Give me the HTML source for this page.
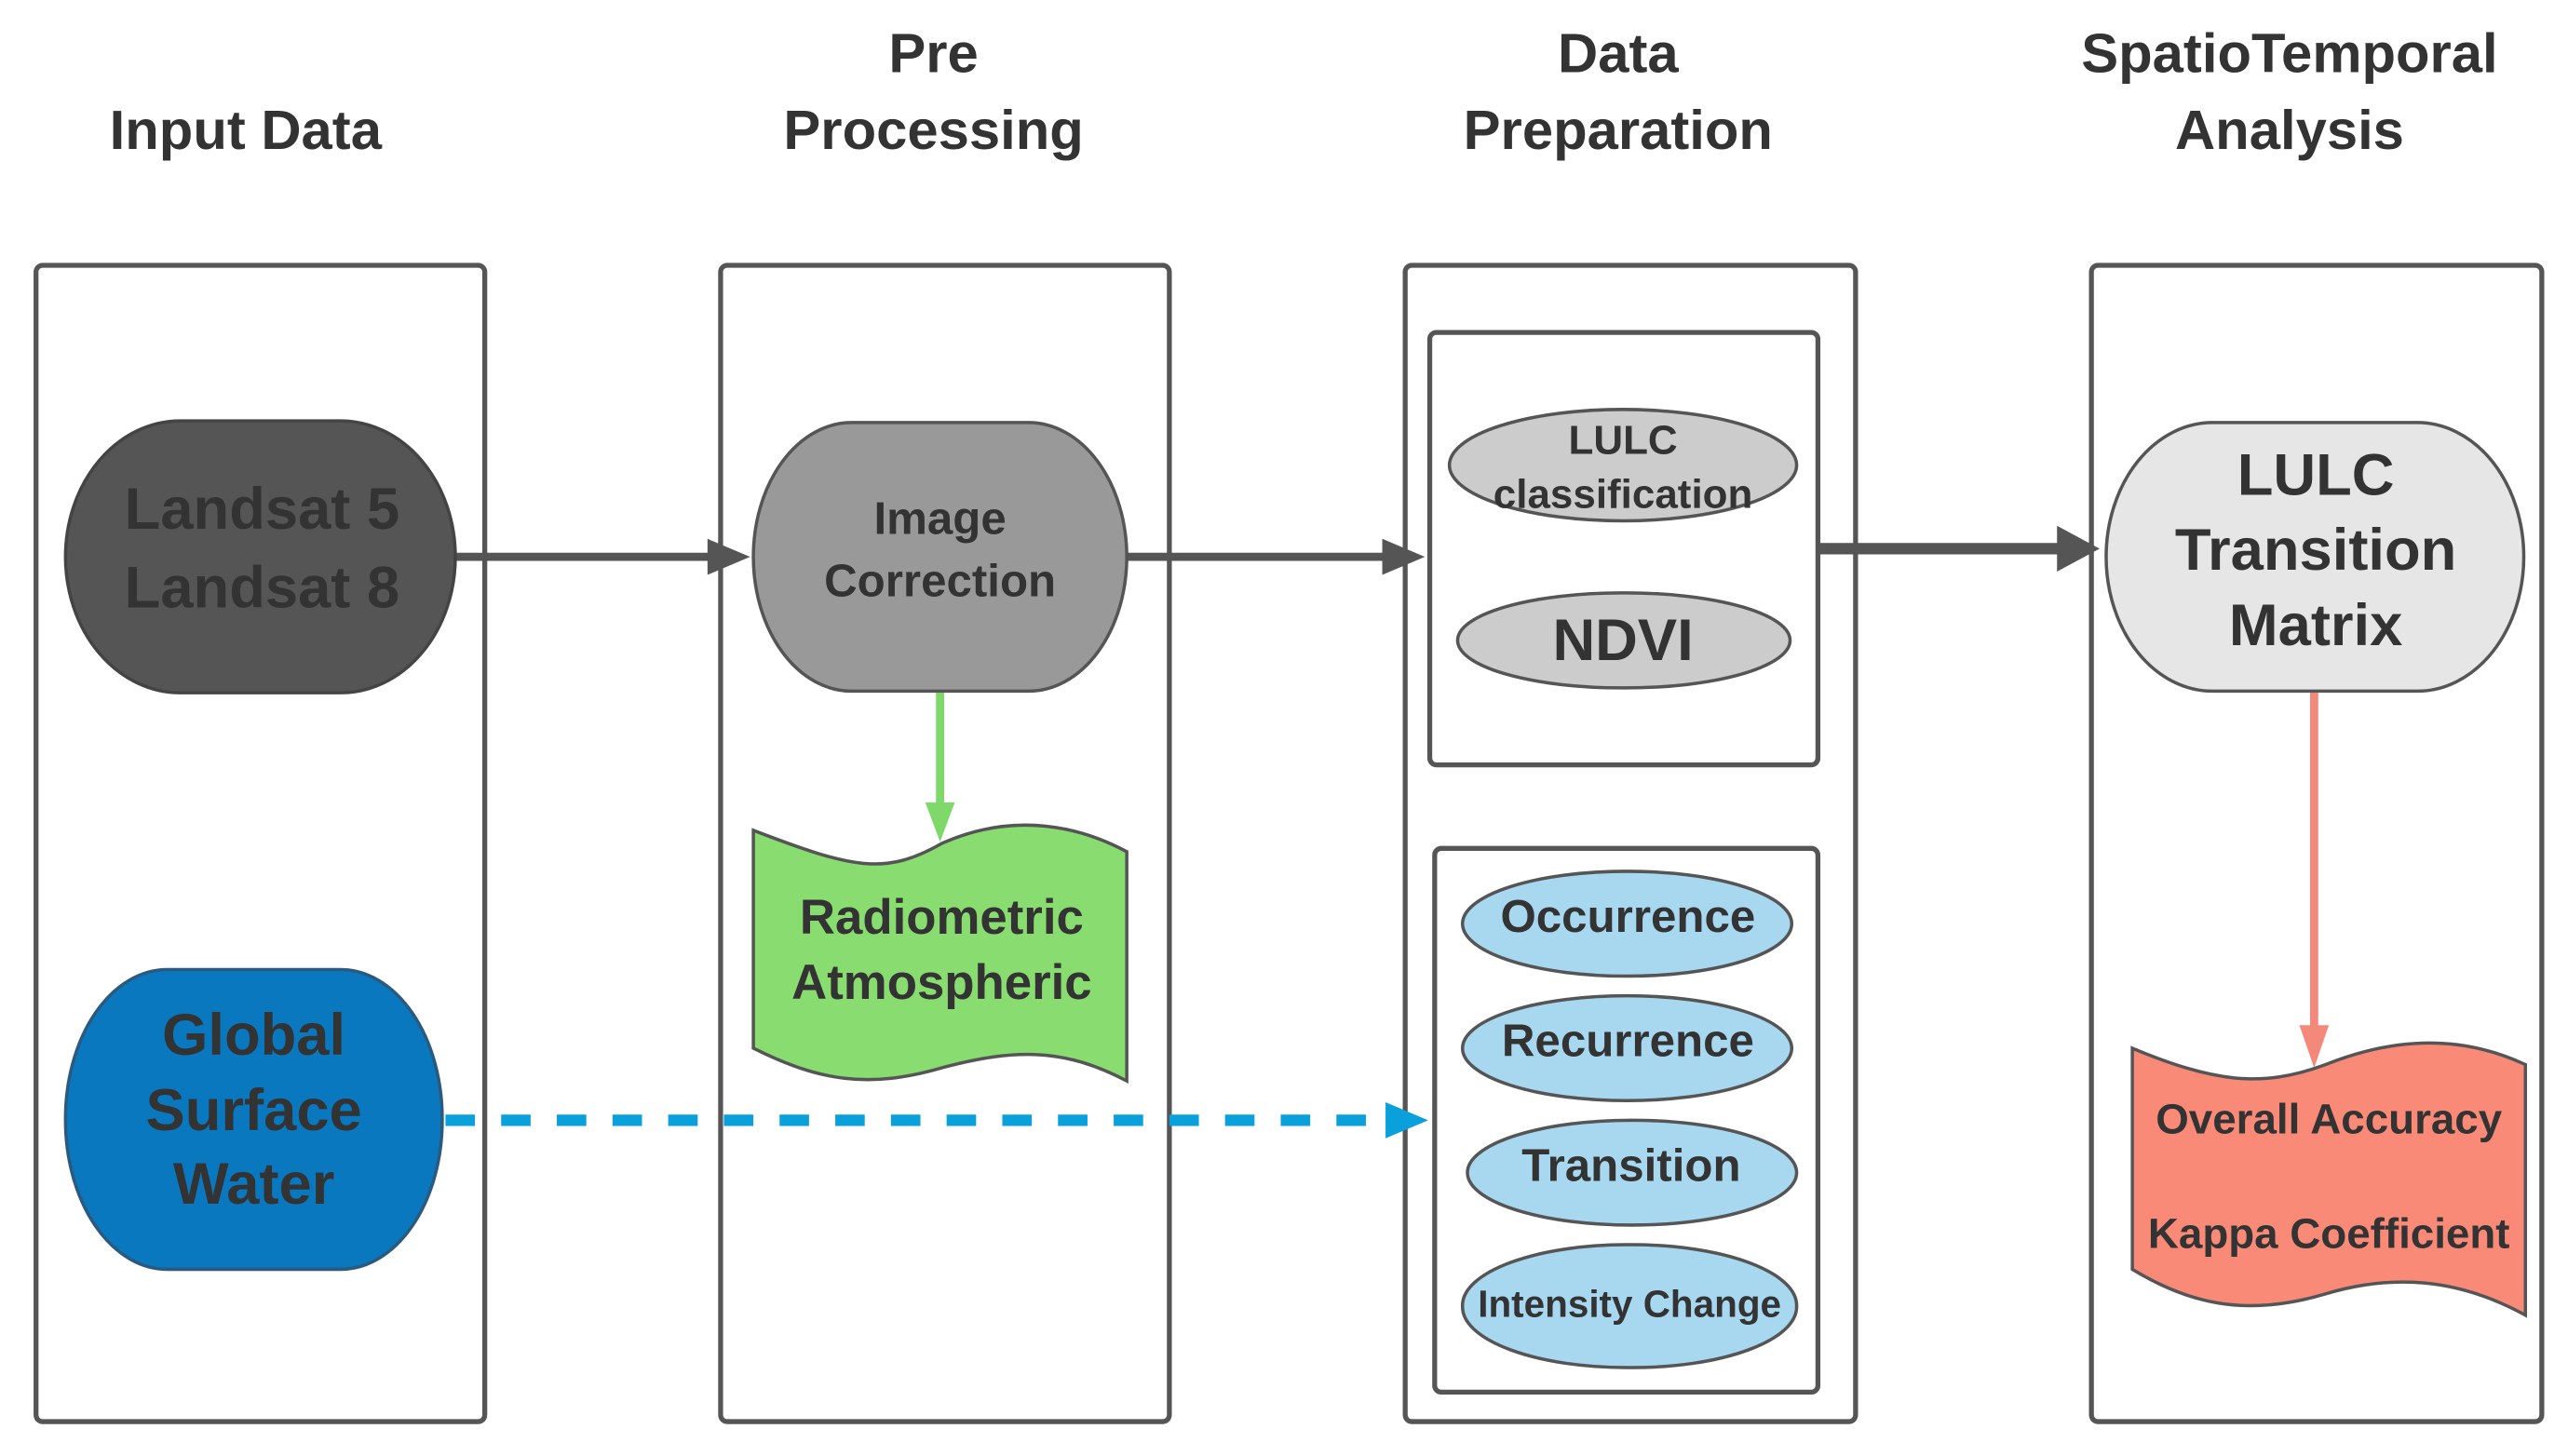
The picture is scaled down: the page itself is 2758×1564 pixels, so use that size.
<!DOCTYPE html>
<html><head><meta charset="utf-8"><style>
html,body{margin:0;padding:0;background:#fff;}
svg{display:block;}
text{font-family:"Liberation Sans",Arial,sans-serif;font-weight:bold;fill:#333;text-anchor:middle;}
</style></head><body>
<svg width="2758" height="1564" viewBox="0 0 1568 889" preserveAspectRatio="none" xmlns="http://www.w3.org/2000/svg">
<defs>
<marker id="ag" markerWidth="8" markerHeight="8" refX="7" refY="4" orient="auto" markerUnits="userSpaceOnUse" viewBox="0 0 8 8"><path d="M0,0 L8,4 L0,8 z" fill="#555"/></marker>
</defs>
<text x="150" y="91" font-size="34">Input Data</text>
<text x="570" y="44" font-size="34">Pre</text>
<text x="570" y="91" font-size="34">Processing</text>
<text x="988" y="44" font-size="34">Data</text>
<text x="988" y="91" font-size="34">Preparation</text>
<text x="1398" y="44" font-size="34">SpatioTemporal</text>
<text x="1398" y="91" font-size="34">Analysis</text>

<g fill="none" stroke="#555" stroke-width="3">
<rect x="22" y="162" width="274" height="706" rx="4"/>
<rect x="440" y="162" width="274" height="706" rx="4"/>
<rect x="858" y="162" width="275" height="706" rx="4"/>
<rect x="1277" y="162" width="275" height="706" rx="4"/>
<rect x="873" y="203" width="237" height="264" rx="4"/>
<rect x="876" y="518" width="234" height="332" rx="4"/>
</g>

<!-- arrows -->
<g stroke="#555" stroke-width="5">
<line x1="278" y1="340" x2="440" y2="340"/>
<line x1="688" y1="340" x2="852" y2="340"/>
<line x1="1110" y1="335" x2="1262" y2="335" stroke-width="7"/>
</g>
<path d="M432,329 L458,340 L432,351 z" fill="#555"/>
<path d="M844,329 L870,340 L844,351 z" fill="#555"/>
<path d="M1256,321 L1282,335 L1256,349 z" fill="#555"/>

<line x1="574" y1="423" x2="574" y2="495" stroke="#7fd86a" stroke-width="5"/>
<path d="M565,490 L574,514 L583,490 z" fill="#7fd86a"/>
<line x1="1413" y1="423" x2="1413" y2="630" stroke="#f4887a" stroke-width="5"/>
<path d="M1404,626 L1413,652 L1422,626 z" fill="#f4887a"/>
<line x1="272" y1="684" x2="850" y2="684" stroke="#0aa0dc" stroke-width="7" stroke-dasharray="18,16"/>
<path d="M846,673 L872,684 L846,695 z" fill="#0aa0dc"/>

<!-- shapes -->
<rect x="40" y="257" width="238" height="166" rx="70" ry="83" fill="#555" stroke="#444" stroke-width="2"/>
<text x="160" y="323" font-size="36" fill="#333">Landsat 5</text>
<text x="160" y="371" font-size="36">Landsat 8</text>

<rect x="40" y="592" width="230" height="183" rx="62" ry="91" fill="#0a78be" stroke="#2a5a80" stroke-width="2"/>
<text x="155" y="644" font-size="36">Global</text>
<text x="155" y="690" font-size="36">Surface</text>
<text x="155" y="735" font-size="36">Water</text>

<rect x="460" y="258" width="228" height="164" rx="60" ry="82" fill="#999" stroke="#555" stroke-width="2"/>
<text x="574" y="326" font-size="28">Image</text>
<text x="574" y="364" font-size="28">Correction</text>

<path d="M460,507 C520,530 540,535 575,515 C620,495 660,505 688,520 L688,660 C650,640 620,640 575,652 C530,665 500,660 460,640 z" fill="#88dc70" stroke="#555" stroke-width="2"/>
<text x="575" y="570" font-size="30">Radiometric</text>
<text x="575" y="610" font-size="30">Atmospheric</text>

<g stroke="#555" stroke-width="2">
<rect x="885" y="250" width="212" height="68" rx="106" ry="34" fill="#ccc"/>
<rect x="890" y="362" width="203" height="58" rx="100" ry="29" fill="#ccc"/>
<rect x="893" y="532" width="201" height="64" rx="100" ry="32" fill="#a8d8f0"/>
<rect x="893" y="608" width="201" height="64" rx="100" ry="32" fill="#a8d8f0"/>
<rect x="896" y="684" width="201" height="64" rx="100" ry="32" fill="#a8d8f0"/>
<rect x="893" y="760" width="204" height="75" rx="100" ry="37" fill="#a8d8f0"/>
</g>
<text x="991" y="277" font-size="25">LULC</text>
<text x="991" y="310" font-size="25">classification</text>
<text x="991" y="403" font-size="36">NDVI</text>
<text x="994" y="569" font-size="28">Occurrence</text>
<text x="994" y="645" font-size="28">Recurrence</text>
<text x="996" y="721" font-size="28">Transition</text>
<text x="995" y="804" font-size="23">Intensity Change</text>

<rect x="1286" y="258" width="255" height="164" rx="65" ry="82" fill="#e6e6e6" stroke="#555" stroke-width="2"/>
<text x="1414" y="302" font-size="36">LULC</text>
<text x="1414" y="348" font-size="36">Transition</text>
<text x="1414" y="394" font-size="36">Matrix</text>

<path d="M1302,640 C1350,660 1380,665 1420,650 C1470,630 1510,635 1542,650 L1542,803 C1500,780 1460,778 1420,790 C1370,805 1335,795 1302,775 z" fill="#f98a78" stroke="#555" stroke-width="2"/>
<text x="1422" y="692" font-size="26">Overall Accuracy</text>
<text x="1422" y="762" font-size="26">Kappa Coefficient</text>
</svg>
</body></html>
